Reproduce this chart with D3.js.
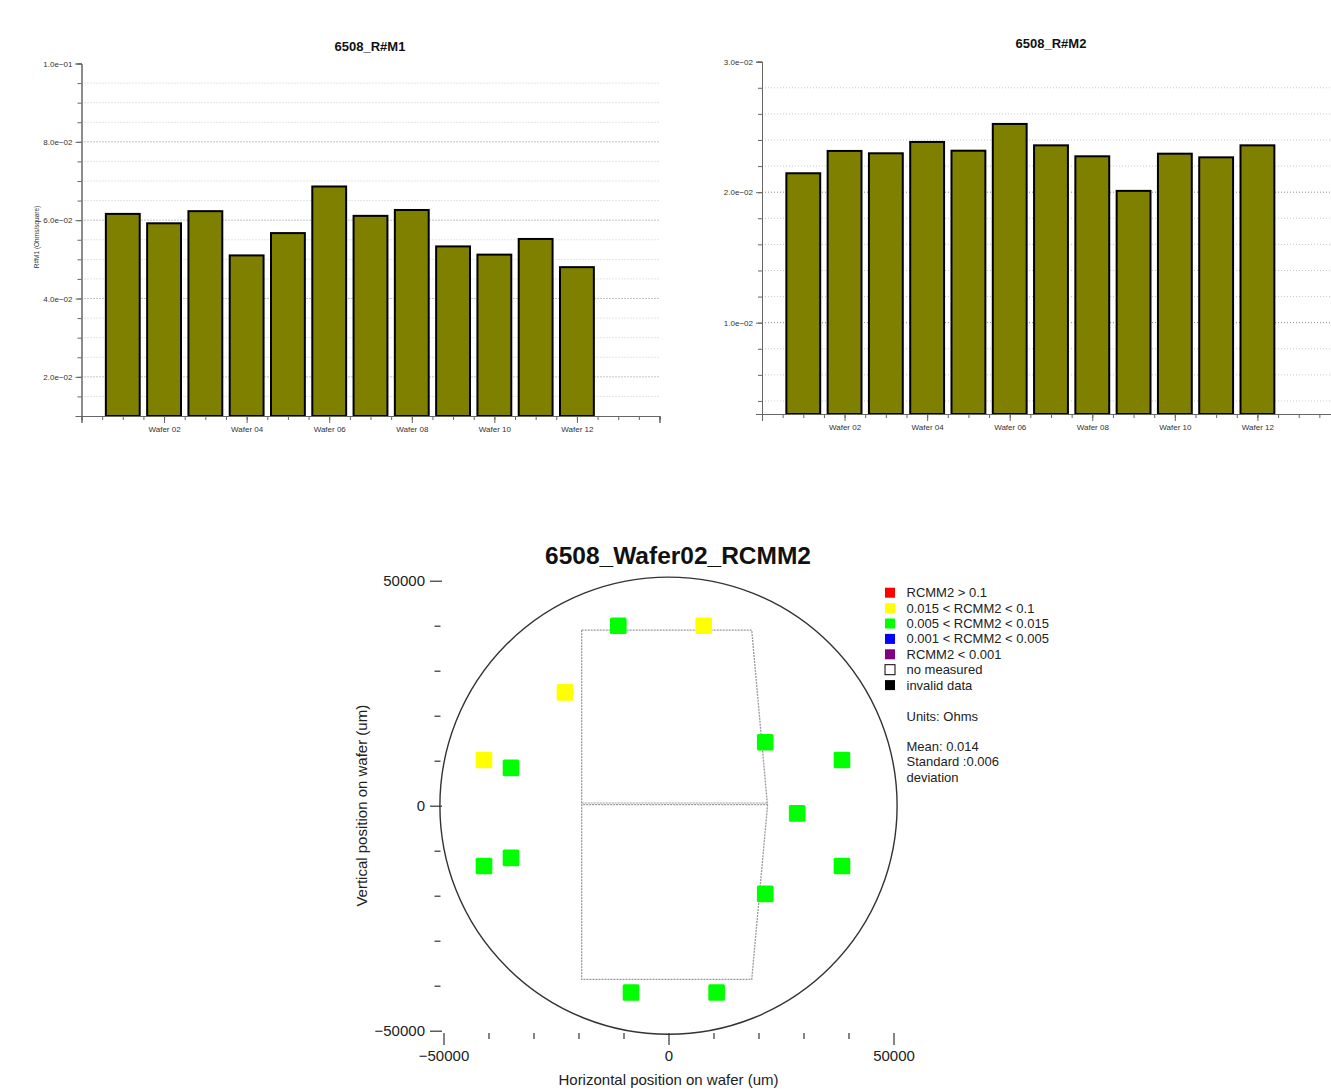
<!DOCTYPE html>
<html>
<head>
<meta charset="utf-8">
<script src="https://cdn.jsdelivr.net/npm/d3@7"></script>
<style>
  html, body { margin: 0; padding: 0; background: #fff; }
  svg { display: block; font-family: "Liberation Sans", Arial, sans-serif; }
</style>
</head>
<body>
<svg id="chart" width="1331" height="1091"></svg>
<script>
// ---- Sheet resistance per wafer (lot 6508) ----
const wafers = ["Wafer 01", "Wafer 02", "Wafer 03", "Wafer 04", "Wafer 05", "Wafer 06",
                "Wafer 07", "Wafer 08", "Wafer 09", "Wafer 10", "Wafer 11", "Wafer 12"];
const rM1 = [0.0616, 0.0592, 0.0623, 0.0510, 0.0567, 0.0686,
             0.0611, 0.0626, 0.0533, 0.0512, 0.0552, 0.0480];
const rM2 = [0.02145, 0.02316, 0.02298, 0.02385, 0.02318, 0.02523,
             0.02359, 0.02275, 0.0201, 0.02295, 0.02267, 0.02359];
const m1MajorTicks = [0.02, 0.04, 0.06, 0.08, 0.1];
const m2MajorTicks = [0.01, 0.02, 0.03];

// ---- RCMM2 wafer map, wafer 02 (positions in um) ----
const siteX = [-11150, 7820, -23000, 21500, 28600, 21500, -8330, 10700,
               -41000, -35000, -41000, -35000, 38550, 38550];
const siteY = [40000, 40000, 25200, 14100, -1700, -19600, -41500, -41500,
               10150, 8400, -13400, -11600, 10150, -13400];
const siteRCMM2 = [0.0110, 0.0245, 0.0258, 0.0116, 0.0096, 0.0122, 0.0107, 0.0129,
                   0.0251, 0.0100, 0.0113, 0.0119, 0.0104, 0.0117];
const legendLabels = ["RCMM2 > 0.1", "0.015 < RCMM2 < 0.1", "0.005 < RCMM2 < 0.015",
                      "0.001 < RCMM2 < 0.005", "RCMM2 < 0.001", "no measured", "invalid data"];
const legendColors = ["#ff0000", "#ffff00", "#00ff00", "#0000ff", "#800080", "#ffffff", "#000000"];
const mapTicks = [-50000, 0, 50000];
const waferRadius = 50800;   // 100 mm wafer
const dieSize = 3700;
// reticle field outline on the wafer
const fieldOutline = [[-19300, 39000], [18500, 39000], [22000, 0], [18500, -38600], [-19300, -38600]];

const svg = d3.select("#chart");
const sci = v => v.toExponential(1).replace("e-", "e\u2212").replace(/e\u2212(\d)$/, "e\u22120$1");

function barChart(opt) {
  const g = svg.append("g");
  const x = d3.scaleLinear().domain([0, 14]).range(opt.xRange);
  const y = d3.scaleLinear().domain(opt.yDomain).range(opt.yRange);
  const [x0, x1] = opt.xRange;

  // dotted grid on multiples of the minor step
  const k0 = Math.ceil(opt.yDomain[0] / opt.minorStep + 1e-6);
  const k1 = Math.floor(opt.yDomain[1] / opt.minorStep - 1e-6);
  const minor = d3.range(k0, k1 + 1).map(k => +(k * opt.minorStep).toFixed(6));
  g.append("g").selectAll("line").data(minor).join("line")
    .attr("x1", x0).attr("x2", x1)
    .attr("y1", d => y(d)).attr("y2", d => y(d))
    .attr("stroke", d => opt.major.some(m => Math.abs(m - d) < 1e-9) ? "#8a8a8a" : "#c8c8c8")
    .attr("stroke-width", 1).attr("stroke-dasharray", "1,2");

  // bars
  g.append("g").selectAll("rect").data(opt.values).join("rect")
    .attr("x", (d, i) => x(i + 1 - 0.41))
    .attr("width", x(0.82) - x(0))
    .attr("y", d => y(d))
    .attr("height", d => y(opt.yDomain[0]) - y(d))
    .attr("fill", "#808000").attr("stroke", "#000").attr("stroke-width", 2);

  // y axis
  const yMinor = d3.axisLeft(y).tickValues(minor.concat([opt.yDomain[1]])).tickSize(4).tickFormat("");
  const yMajor = d3.axisLeft(y).tickValues(opt.major).tickSize(6).tickPadding(3).tickFormat(sci);
  [yMinor, yMajor].forEach(ax => {
    const a = g.append("g").attr("transform", `translate(${x0},0)`).call(ax);
    a.selectAll("path, line").attr("stroke", "#666");
    a.selectAll("text").attr("font-size", 8).attr("fill", "#333");
  });

  // x axis
  const half = d3.range(0, 14.01, 0.5);
  const labelled = [2, 4, 6, 8, 10, 12];
  const xMinor = d3.axisBottom(x).tickValues(half).tickSize(4).tickFormat("");
  const xMajor = d3.axisBottom(x).tickValues([0, 2, 4, 6, 8, 10, 12, 14]).tickSize(7).tickPadding(3)
    .tickFormat(d => labelled.includes(d) ? opt.categories[d - 1] : "");
  [xMinor, xMajor].forEach(ax => {
    const a = g.append("g").attr("transform", `translate(0,${y(opt.yDomain[0])})`).call(ax);
    a.selectAll("path, line").attr("stroke", "#666");
    a.selectAll("text").attr("font-size", 8).attr("fill", "#333");
  });

  g.append("text").attr("x", opt.titlePos[0]).attr("y", opt.titlePos[1])
    .attr("text-anchor", "middle").attr("font-size", 13).attr("font-weight", "bold")
    .attr("fill", "#111").text(opt.title);

  if (opt.yLabel) {
    g.append("text")
      .attr("transform", `translate(${opt.yLabelPos[0]},${opt.yLabelPos[1]}) rotate(-90)`)
      .attr("text-anchor", "middle").attr("dy", "0.35em")
      .attr("font-size", 6.5).attr("fill", "#333").text(opt.yLabel);
  }
}

barChart({
  values: rM1, categories: wafers,
  xRange: [81.5, 659.5], yDomain: [0.01, 0.1], yRange: [416, 63.5],
  minorStep: 0.005, major: m1MajorTicks,
  title: "6508_R#M1", titlePos: [370, 51],
  yLabel: "R#M1 (Ohms/square)", yLabelPos: [37, 237]
});

barChart({
  values: rM2, categories: wafers,
  xRange: [762, 1340], yDomain: [0.003, 0.03], yRange: [414, 61.7],
  minorStep: 0.002, major: m2MajorTicks,
  title: "6508_R#M2", titlePos: [1051, 48]
});

// ---- wafer map ----
const mx = d3.scaleLinear().domain([-50000, 50000]).range([443.5, 893.5]);
const my = d3.scaleLinear().domain([-50000, 50000]).range([1030.7, 580.7]);
const colorOf = d3.scaleThreshold().domain([0.001, 0.005, 0.015, 0.1])
  .range(["#800080", "#0000ff", "#00ff00", "#ffff00", "#ff0000"]);
const wm = svg.append("g");

wm.append("text").attr("x", 678).attr("y", 564).attr("text-anchor", "middle")
  .attr("font-size", 24.5).attr("font-weight", "bold").attr("fill", "#111")
  .text("6508_Wafer02_RCMM2");

wm.append("circle").attr("cx", mx(0)).attr("cy", my(0))
  .attr("r", mx(waferRadius) - mx(0))
  .attr("fill", "none").attr("stroke", "#333").attr("stroke-width", 1.4);

// reticle field outline
wm.append("path")
  .attr("d", d3.line().x(d => mx(d[0])).y(d => my(d[1]))(fieldOutline) + "Z")
  .attr("fill", "none").attr("stroke", "#9a9a9a").attr("stroke-width", 1.3)
  .attr("stroke-dasharray", "2,1");
[-0.7, 0.9].forEach((off, k) => {
  wm.append("line")
    .attr("x1", mx(fieldOutline[0][0])).attr("x2", mx(fieldOutline[2][0]))
    .attr("y1", my(0) - 2 + off).attr("y2", my(0) - 2 + off)
    .attr("stroke", "#9a9a9a").attr("stroke-width", 1.2)
    .attr("stroke-dasharray", "2,1").attr("stroke-dashoffset", k * 1.5);
});

// measurement sites
const sites = siteX.map((sx, i) => ({ x: sx, y: siteY[i], v: siteRCMM2[i] }));
const dpx = mx(dieSize) - mx(0);
wm.append("g").selectAll("rect").data(sites).join("rect")
  .attr("x", d => mx(d.x) - dpx / 2).attr("y", d => my(d.y) - dpx / 2)
  .attr("width", dpx).attr("height", dpx).attr("rx", 1.5)
  .attr("fill", d => colorOf(d.v));

// axes
const tickMinor = d3.range(-40000, 40001, 10000).filter(v => v !== 0);
const yAxMinor = d3.axisLeft(my).tickValues(tickMinor).tickSize(6).tickFormat("");
const yAxMajor = d3.axisLeft(my).tickValues(mapTicks).tickSize(12).tickPadding(5)
  .tickFormat(d => d < 0 ? "\u2212" + Math.abs(d) : d);
[[yAxMinor, 440.5], [yAxMajor, 442]].forEach(([ax, xp]) => {
  const a = wm.append("g").attr("transform", `translate(${xp},0)`).call(ax);
  a.select(".domain").remove();
  a.selectAll("line").attr("stroke", "#333").attr("stroke-width", 1.2);
  a.selectAll("text").attr("font-size", 15).attr("fill", "#222");
});
const xAxMinor = d3.axisBottom(mx).tickValues(tickMinor).tickSize(6).tickFormat("");
const xAxMajor = d3.axisBottom(mx).tickValues(mapTicks).tickSize(12).tickPadding(5)
  .tickFormat(d => d < 0 ? "\u2212" + Math.abs(d) : d);
[xAxMinor, xAxMajor].forEach(ax => {
  const a = wm.append("g").attr("transform", "translate(0,1033)").call(ax);
  a.select(".domain").remove();
  a.selectAll("line").attr("stroke", "#333").attr("stroke-width", 1.2);
  a.selectAll("text").attr("font-size", 15).attr("fill", "#222");
});

wm.append("text").attr("x", mx(0)).attr("y", 1085).attr("text-anchor", "middle")
  .attr("font-size", 15).attr("fill", "#222").text("Horizontal position on wafer (um)");
wm.append("text").attr("transform", `translate(362,${my(0)}) rotate(-90)`)
  .attr("text-anchor", "middle").attr("dy", "0.35em")
  .attr("font-size", 15).attr("fill", "#222").text("Vertical position on wafer (um)");

// legend
const lg = wm.append("g");
legendLabels.forEach((lab, i) => {
  const cy = 592.7 + i * 15.4;
  lg.append("rect").attr("x", 885).attr("y", cy - 5).attr("width", 10).attr("height", 10)
    .attr("fill", legendColors[i])
    .attr("stroke", legendColors[i] === "#ffffff" ? "#000" : "none").attr("stroke-width", 1);
  lg.append("text").attr("x", 906.5).attr("y", cy).attr("dy", "0.35em")
    .attr("font-size", 13).attr("fill", "#222").text(lab);
});
const fmt3 = d3.format(".3f");
const statLines = [
  ["Units: Ohms", 716],
  ["Mean: " + fmt3(d3.mean(siteRCMM2)), 746],
  ["Standard :" + fmt3(d3.deviation(siteRCMM2)), 761.5],
  ["deviation", 777]
];
statLines.forEach(([t, yy]) => {
  lg.append("text").attr("x", 906.5).attr("y", yy).attr("dy", "0.35em")
    .attr("font-size", 13).attr("fill", "#222").text(t);
});
</script>
</body>
</html>
